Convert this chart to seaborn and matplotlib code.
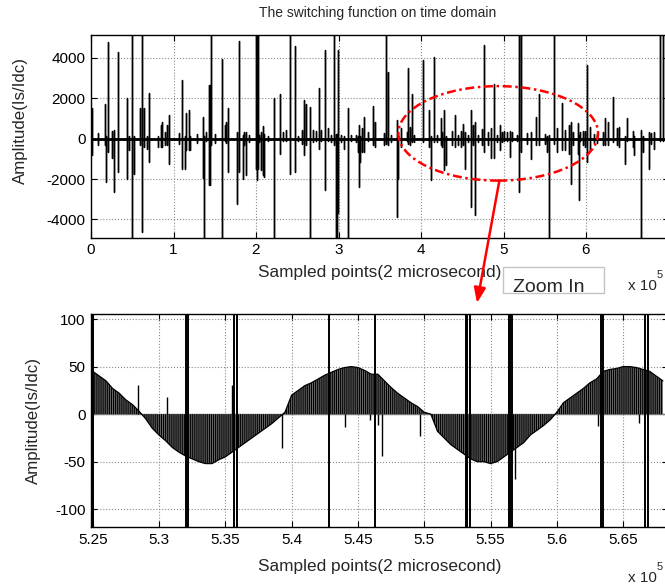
import numpy as np
import pandas as pd
import matplotlib
matplotlib.use('Agg')
import matplotlib.pyplot as plt
import seaborn as sns
from matplotlib.patches import Ellipse, Rectangle

# Top panel: spikes of the switching function (x in units of 1e5 samples)
# each spike swings from 0 up to top_max and down to top_min
top_x = [0.008, 0.089, 0.170, 0.178, 0.211, 0.259, 0.283, 0.324, 0.433, 0.462,
         0.494, 0.526, 0.595, 0.623, 0.648, 0.676, 0.704, 0.818, 0.850, 0.866,
         0.899, 0.919, 0.947, 1.061, 1.109, 1.134, 1.154, 1.182, 1.202, 1.283,
         1.356, 1.372, 1.397, 1.433, 1.445, 1.453, 1.506, 1.587, 1.619, 1.636,
         1.660,
         1.766, 1.798, 1.838, 1.859, 1.879, 1.919, 2.000, 2.012, 2.028, 2.040,
         2.061, 2.089, 2.101, 2.141, 2.222, 2.287, 2.323, 2.364, 2.416, 2.477,
         2.513, 2.558, 2.586, 2.606, 2.655, 2.687, 2.727, 2.768, 2.788, 2.836,
         2.877, 2.909, 2.949, 2.974, 2.986, 2.998, 3.030, 3.071, 3.111, 3.152,
         3.212, 3.236, 3.253, 3.265, 3.285, 3.313, 3.362, 3.414, 3.442,
         3.555, 3.575, 3.604, 3.636, 3.705, 3.717, 3.753, 3.826, 3.846, 3.866,
         3.895, 3.919, 4.028, 4.097, 4.121, 4.157, 4.190, 4.238, 4.258, 4.282,
         4.299, 4.371, 4.412, 4.452, 4.484, 4.513, 4.533, 4.573, 4.606, 4.626,
         4.654, 4.695, 4.735, 4.767, 4.816, 4.848, 4.884, 4.917, 4.957, 4.977,
         5.010, 5.038, 5.078, 5.107, 5.159,
         5.184, 5.212, 5.285, 5.334, 5.398, 5.435, 5.507, 5.528, 5.548, 5.608,
         5.649, 5.709, 5.750, 5.790, 5.819, 5.843, 5.899, 5.911, 5.932, 5.964,
         5.992, 6.012, 6.053, 6.101, 6.134, 6.206, 6.235, 6.263, 6.328, 6.376,
         6.396, 6.477, 6.497, 6.570, 6.586, 6.667, 6.691, 6.760, 6.788, 6.828,
         6.901, 6.934]
top_max = [1520, 250, 1730, 100, 4790, 360, 410, 4260, 1980, 100,
           6000, 100, 1520, 6000, 1490, 100, 2260, 100, 660, 830,
           330, 660, 1160, 250, 2890, 100, 1240, 1400, 100, 200,
           1070, 100, 330, 2640, 2640, 6000, 200, 3930, 660, 830,
           1520,
           330, 4820, 160, 330, 330, 150, 6000, 6000, 6000, 160,
           330, 610, 200, 100, 1980, 2180, 330, 410, 6000, 4590,
           100, 410, 1900, 1730, 1570, 410, 380, 2510, 410, 4370,
           530, 150, 6000, 200, 200, 4370, 150, 100, 1520, 160,
           160, 100, 660, 100, 500, 1070, 330, 1620, 830,
           250, 6000, 3300, 150, 900, 100, 500, 330, 3500, 580,
           2180, 150, 3880, 1400, 100, 4040, 150, 990, 330, 1400,
           100, 360, 1160, 160, 360, 740, 330, 150, 1400, 660,
           830, 150, 460, 4620, 330, 500, 2670, 150, 660, 330,
           360, 330, 360, 330, 160,
           6000, 6000, 250, 330, 1070, 2180, 200, 100, 160, 6000,
           530, 1770, 410, 660, 830, 330, 790, 100, 330, 360,
           360, 3630, 580, 200, 200, 330, 990, 830, 2060, 500,
           580, 100, 1020, 360, 100, 410, 100, 330, 250, 330,
           6000, 6000]
top_min = [-825, -330, -330, -2150, -660, -960, -2640, -1650, -1980, -580,
           -6000, -1730, -330, -4620, -410, -500, -1160, -410, -410, -410,
           -330, -330, -1240, -250, -1520, -1490, -580, -580, -580, -200,
           -1930, -6000, -100, -2310, -2310, -300, -200, -6000, -100, -200,
           -1650,
           -3220, -1650, -1980, -330, -1820, -150, -1490, -2060, -1500, -160,
           -1570, -1820, -1900, -100, -6000, -740, -100, -100, -1730, -1650,
           -100, -250, -830, -330, -6000, -160, -100, -500, -100, -2560,
           -100, -150, -330, -6000, -6000, -3690, -150, -500, -6000, -100,
           -160, -660, -2390, -1160, -660, -660, -100, -330, -410,
           -330, -250, -330, -150, -3880, -1980, -410, -100, -250, -330,
           -160, -150, -160, -410, -2060, -160, -150, -330, -410, -1570,
           -1320, -330, -410, -330, -410, -330, -1490, -150, -3380, -330,
           -3800, -150, -330, -660, -330, -960, -960, -150, -580, -160,
           -100, -100, -910, -100, -100,
           -2640, -660, -250, -990, -330, -330, -250, -660, -6000, -250,
           -660, -580, -580, -740, -2230, -330, -740, -3050, -100, -330,
           -410, -1160, -580, -200, -200, -330, -330, -330, -160, -330,
           -410, -1240, -100, -410, -830, -6000, -660, -1490, -250, -530,
           -100, -100]
top_xlim = [0, 7]
top_xticks = [0, 1, 2, 3, 4, 5, 6]
top_xticklabels = ['0', '1', '2', '3', '4', '5', '6']
top_yticks = [-4000, -2000, 0, 2000, 4000]

# Bottom panel (zoom in): envelope of the dense switching pulses
env_x = [5.250, 5.255, 5.260, 5.265, 5.270, 5.275, 5.280, 5.285, 5.290, 5.295,
         5.300, 5.305, 5.310, 5.315, 5.320, 5.325, 5.330, 5.335, 5.340, 5.345,
         5.350, 5.355, 5.360, 5.365, 5.370, 5.375, 5.380, 5.385, 5.390, 5.395,
         5.400, 5.405, 5.410, 5.415, 5.420, 5.425, 5.430, 5.435, 5.440, 5.445,
         5.450, 5.455, 5.460, 5.465, 5.470, 5.475, 5.480, 5.485, 5.490, 5.495,
         5.500, 5.505, 5.510, 5.515, 5.520, 5.525, 5.530, 5.535, 5.540, 5.545,
         5.550, 5.555, 5.560, 5.565, 5.570, 5.575, 5.580, 5.585, 5.590, 5.595,
         5.600, 5.605, 5.610, 5.615, 5.620, 5.625, 5.630, 5.635, 5.640, 5.645,
         5.650, 5.655, 5.660, 5.665, 5.670, 5.675, 5.680]
env_y = [45, 40, 35, 27, 22, 15, 10, 3, -5, -15,
         -22, -28, -35, -40, -44, -47, -50, -52, -52, -48,
         -45, -40, -35, -30, -25, -20, -15, -10, -4, 2,
         20, 25, 30, 33, 37, 41, 44, 47, 49, 50,
         49, 46, 42, 42, 35, 28, 22, 17, 12, 8,
         2, 0, -18, -25, -32, -37, -42, -47, -50, -50,
         -52, -50, -45, -40, -35, -30, -22, -17, -12, -6,
         2, 12, 17, 22, 27, 33, 37, 45, 47, 48,
         50, 50, 49, 47, 45, 40, 35]
# spikes that run off the zoomed axis
zoom_spike_x = [5.2492, 5.2504, 5.3202, 5.3216, 5.3566, 5.3591, 5.4284, 5.4632,
                5.5316, 5.5326, 5.5342, 5.5638, 5.5650, 5.5662, 5.6331, 5.6351,
                5.6665, 5.6690]
# shorter spikes inside the zoom window
zoom_short_x = [5.2844, 5.3063, 5.3548, 5.3930, 5.4400, 5.4591, 5.4649, 5.4680,
                5.4968, 5.5685, 5.6313, 5.6622]
zoom_short_y = [31, 18, 31, -36, -13, -6, -11, -44, -23, -68, -12, -9]
zoom_xlim = [5.2487, 5.6840]
zoom_xticks = [5.25, 5.30, 5.35, 5.40, 5.45, 5.50, 5.55, 5.60, 5.65]
zoom_xticklabels = ['5.25', '5.3', '5.35', '5.4', '5.45', '5.5', '5.55', '5.6', '5.65']
zoom_yticks = [-100, -50, 0, 50, 100]

W, H = 665, 585


def px(x, y):
    """figure pixel (from top-left) -> figure fraction"""
    return x / W, 1 - y / H


def spike_frame(xs, highs, lows, x_end):
    rows = [(0.0, 0.0)]
    for x, hi, lo in zip(xs, highs, lows):
        rows += [(x, 0.0), (x, hi), (x, lo), (x, 0.0)]
    rows.append((x_end, 0.0))
    return pd.DataFrame(rows, columns=['x', 'y'])


def matlab_axes(ax):
    # box on, inward ticks, dotted grid
    ax.tick_params(direction='in', top=True, right=True, length=4, width=0.8,
                   labelsize=11, colors='black', pad=4)
    for s in ax.spines.values():
        s.set_visible(True)
        s.set_color('black')
        s.set_linewidth(1.0)
    ax.grid(True, linestyle=':', color='#8a8a8a', linewidth=0.8)
    ax.set_axisbelow(True)


sns.set_style('ticks')
plt.rcParams['font.family'] = ['Liberation Sans', 'DejaVu Sans']
plt.rcParams['axes.unicode_minus'] = False
plt.rcParams['hatch.linewidth'] = 0.8

fig = plt.figure(figsize=(W / 100, H / 100), dpi=100)
fig.patch.set_facecolor('white')

# ---- top: whole record
ax1 = fig.add_axes([91 / W, 1 - 237.7 / H, 577.5 / W, 202.4 / H])
assert len(top_x) == len(top_max) == len(top_min)
df_top = spike_frame(top_x, top_max, top_min, top_xlim[1])
ax1.axhline(0, color='black', lw=2.0, zorder=2)
sns.lineplot(data=df_top, x='x', y='y', sort=False, estimator=None,
             color='black', linewidth=1.0, ax=ax1, zorder=3)
ax1.set_xlim(*top_xlim)
ax1.set_ylim(-4900, 5100)
ax1.set_xticks(top_xticks)
ax1.set_xticklabels(top_xticklabels)
ax1.set_yticks(top_yticks)
ax1.set_yticklabels([str(v) for v in top_yticks])
matlab_axes(ax1)
ax1.set_xlabel('Sampled points(2 microsecond)', fontsize=12.4, va='center')
ax1.xaxis.set_label_coords(0.5, (237.7 - 273) / 202.4)
ax1.set_ylabel('Amplitude(Is/Idc)', fontsize=12.2, va='center', ha='center')
ax1.yaxis.set_label_coords((20 - 91) / 577.5, (237.7 - 121) / 202.4)

# red dash-dot ellipse marking the zoomed region
ell = Ellipse((4.936, 255), width=2.42, height=4668, fill=False,
              edgecolor='red', lw=1.8, linestyle=(0, (3.6, 1.45, 1.0, 1.45)),
              zorder=5, clip_on=False)
ax1.add_patch(ell)
ax1.annotate('', xy=(477, H - 303), xycoords='figure pixels',
             xytext=(4.95, 255 - 4668 / 2), textcoords='data',
             arrowprops=dict(arrowstyle='-|>,head_length=0.9,head_width=0.35',
                             color='red', lw=1.8, shrinkA=0, shrinkB=0),
             annotation_clip=False, zorder=6)

# ---- bottom: zoom in
ax2 = fig.add_axes([91 / W, 1 - 527.3 / H, 577.2 / W, 213 / H])
ax2.axhline(0, color='#808080', lw=1.0, zorder=1)
ax2.fill_between(env_x, 0, env_y, facecolor='#6a6a6a', edgecolor='black',
                 hatch='||||||||', linewidth=0, zorder=2)
sns.lineplot(x=env_x, y=env_y, color='black', linewidth=0.9, ax=ax2, zorder=3)
ax2.vlines(zoom_short_x, 0, zoom_short_y, color='black', lw=1.0, zorder=3)
for xs in zoom_spike_x:
    ax2.axvline(xs, color='black', lw=1.4, zorder=4)
ax2.set_xlim(*zoom_xlim)
ax2.set_ylim(-119, 105)
ax2.set_xticks(zoom_xticks)
ax2.set_xticklabels(zoom_xticklabels)
ax2.set_yticks(zoom_yticks)
ax2.set_yticklabels([str(v) for v in zoom_yticks])
matlab_axes(ax2)
ax2.set_xlabel('Sampled points(2 microsecond)', fontsize=12.4, va='center')
ax2.xaxis.set_label_coords(0.5, (527.3 - 566) / 213)
ax2.set_ylabel('Amplitude(Is/Idc)', fontsize=12.2, va='center', ha='center')
ax2.yaxis.set_label_coords((33 - 91) / 577.2, 0.5)

# ---- texts
fig.text(*px(378, 13), 'The switching function on time domain', fontsize=10,
         ha='center', va='center')
fig.text(*px(628, 286), 'x 10', fontsize=11, ha='left', va='center')
fig.text(*px(657, 275), '5', fontsize=8, ha='left', va='center')
fig.text(*px(628, 578), 'x 10', fontsize=11, ha='left', va='center')
fig.text(*px(657, 567), '5', fontsize=8, ha='left', va='center')

x0, y0 = px(503, 293)
x1, y1 = px(604, 267)
fig.add_artist(Rectangle((x0, y0), x1 - x0, y1 - y0, transform=fig.transFigure,
                         facecolor='white', edgecolor='#c4c4c4', lw=1.0))
fig.text(*px(549, 287), 'Zoom In', fontsize=14, ha='center', va='center')

fig.savefig('out.png', dpi=100, facecolor='white')
